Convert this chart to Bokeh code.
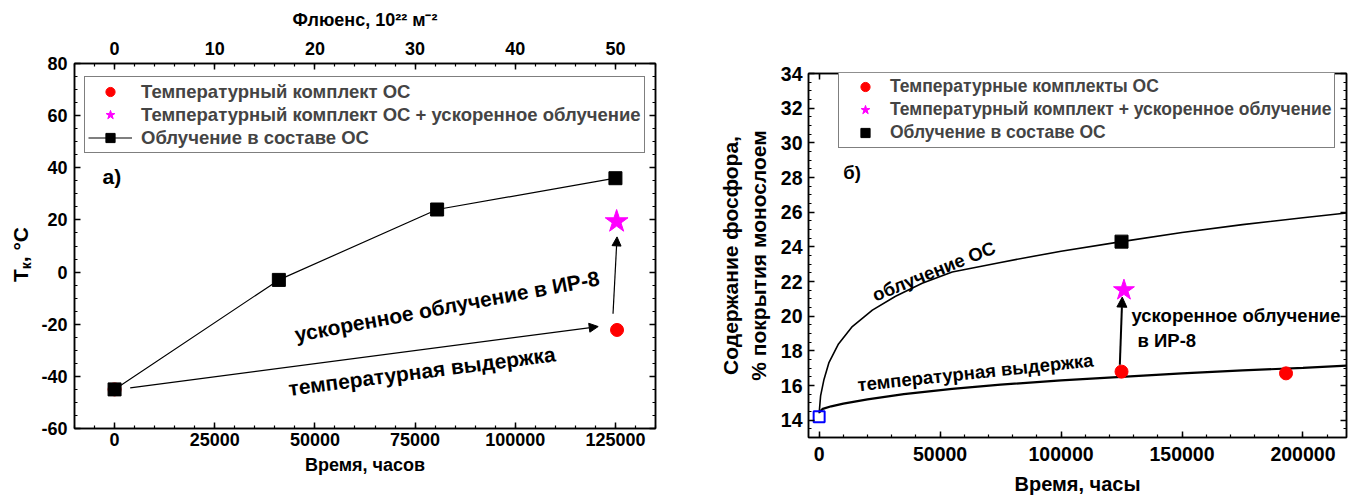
from bokeh.plotting import figure
from bokeh.models import (Range1d, LinearAxis, Legend, LegendItem, Arrow, NormalHead, Div,
                          SingleIntervalTicker, NumeralTickFormatter, CustomJSTickFormatter)
from bokeh.layouts import row, column
from bokeh.core.properties import value
from bokeh.embed import file_html
from bokeh.resources import INLINE
import math

FONT = "Liberation Sans"

# ---------------- data: panel a ----------------
a_sq_time = [0, 41000, 80500, 125000]
a_sq_temp = [-45, -3, 24, 36]
a_red_time = [0, 125400]
a_red_temp = [-45, -22.2]
a_star_time = [125300]
a_star_temp = [19.4]
a_x_label = "Время, часов"
a_top_label = "Флюенс, 10²² м⁻²"
a_legend = ["Температурный комплект ОС",
            "Температурный комплект ОС + ускоренное облучение",
            "Облучение в составе ОС"]

# ---------------- data: panel b ----------------
b_up_time = [0, 600, 2000, 4000, 8000, 13700, 22000, 31600, 42600, 55000, 75000,
             100000, 125000, 150000, 175000, 200000, 218000]
b_up_val = [14.4, 15.4, 16.35, 17.3, 18.4, 19.4, 20.35, 21.15, 21.9, 22.55, 23.1,
            23.75, 24.3, 24.83, 25.28, 25.68, 25.95]
b_low_time = [0, 1500, 5000, 10000, 20000, 35000, 55000, 75000, 100000, 125000, 150000,
              175000, 200000, 218000]
b_low_val = [14.45, 14.65, 14.8, 14.95, 15.2, 15.5, 15.8, 16.05, 16.3, 16.5, 16.7,
             16.87, 17.02, 17.15]
b_red_time = [125000, 193000]
b_red_val = [16.8, 16.7]
b_star_time = [126000]
b_star_val = [21.5]
b_sq_time = [125000]
b_sq_val = [24.3]
b_init_time = [0]
b_init_val = [14.2]
b_legend = ["Температурные комплекты ОС",
            "Температурный комплект + ускоренное облучение",
            "Облучение в составе ОС"]

BLANK = CustomJSTickFormatter(code="return ''")


def style_axis(ax, interval, minor, labels=True, fs="18px", tfs="18px"):
    ax.ticker = SingleIntervalTicker(interval=interval, num_minor_ticks=minor)
    ax.axis_line_width = 1.5
    ax.axis_line_color = "black"
    ax.major_tick_in = 6
    ax.major_tick_out = 0
    ax.minor_tick_in = 3
    ax.minor_tick_out = 0
    ax.major_tick_line_width = 1.5
    ax.minor_tick_line_width = 1.2
    ax.major_tick_line_color = "black"
    ax.minor_tick_line_color = "black"
    ax.major_label_text_font = FONT
    ax.major_label_text_font_style = "bold"
    ax.major_label_text_font_size = fs
    ax.major_label_text_color = "black"
    ax.axis_label_text_font = FONT
    ax.axis_label_text_font_style = "bold"
    ax.axis_label_text_font_size = tfs
    ax.axis_label_text_color = "black"
    if labels:
        ax.formatter = NumeralTickFormatter(format="0")
    else:
        ax.formatter = BLANK
        ax.major_label_standoff = 0


def clean(p):
    p.xgrid.visible = False
    p.ygrid.visible = False
    p.outline_line_color = "black"
    p.outline_line_width = 1.5
    p.background_fill_color = "white"
    p.border_fill_color = "white"


# =============== y label strip for panel a (HTML text with a real subscript) ===============
ylab = Div(text=('<div style="margin-top:227px; margin-left:9px; writing-mode:vertical-rl; '
                 'transform:rotate(180deg); font-family:\'Liberation Sans\'; font-weight:bold; '
                 'font-size:21px; line-height:24px; color:black; white-space:nowrap;">'
                 'T<sub style="font-size:14px;">к</sub>, °C</div>'),
           width=36, height=497, margin=0)

# =============== panel a ===============
p1 = figure(width=644, height=497, x_range=Range1d(-10000, 135000), y_range=Range1d(-60, 80),
            output_backend="svg", toolbar_location=None,
            min_border_left=38, min_border_right=25, min_border_top=63, min_border_bottom=69)
clean(p1)
style_axis(p1.xaxis[0], 25000, 5)
p1.xaxis[0].axis_label = a_x_label
p1.xaxis[0].major_label_standoff = 4
p1.xaxis[0].axis_label_standoff = 6
style_axis(p1.yaxis[0], 20, 4)
p1.yaxis[0].major_label_standoff = 7

p1.extra_x_ranges = {"flu": Range1d(-4, 54)}
top = LinearAxis(x_range_name="flu", axis_label=a_top_label)
style_axis(top, 10, 5)
top.major_label_standoff = 9
top.axis_label_standoff = 9
p1.add_layout(top, "above")
right1 = LinearAxis()
style_axis(right1, 20, 4, labels=False)
p1.add_layout(right1, "right")

r_c = p1.scatter(a_red_time, a_red_temp, marker="circle", size=13, color="red")
r_s = p1.scatter(a_star_time, a_star_temp, marker="star", size=24, color="magenta")
r_l = p1.line(a_sq_time, a_sq_temp, line_color="black", line_width=1.2)
r_q = p1.scatter(a_sq_time, a_sq_temp, marker="square", size=13, color="black")

p1.add_layout(Arrow(end=NormalHead(size=9, fill_color="black", line_color="black"),
                    x_start=3900, y_start=-44.4, x_end=120700, y_end=-20.9,
                    line_width=1.2, line_color="black"))
p1.add_layout(Arrow(end=NormalHead(size=9, fill_color="black", line_color="black"),
                    x_start=124400, y_start=-16, x_end=125400, y_end=13.5,
                    line_width=1.2, line_color="black"))

ta = dict(text_font=value(FONT), text_font_style="bold", text_font_size="21px",
          text_baseline="middle", text_color="black")
p1.text(x=[83000], y=[-13.1], text=["ускоренное облучение в ИР-8"],
        angle=math.radians(10.6), text_align="center", **ta)
p1.text(x=[76700], y=[-38.0], text=["температурная выдержка"],
        angle=math.radians(7.4), text_align="center", **ta)
p1.text(x=[-3000], y=[36.7], text=["а)"], text_align="left", **ta)

leg1 = Legend(items=[
    LegendItem(label=a_legend[0], renderers=[r_c]),
    LegendItem(label=a_legend[1], renderers=[r_s]),
    LegendItem(label=a_legend[2], renderers=[r_l, r_q]),
], location=(10, 275), margin=0, padding=3, spacing=0, label_height=23, glyph_height=23,
    glyph_width=44, label_standoff=9, border_line_color="black", border_line_width=1.2,
    label_text_font=FONT, label_text_font_style="bold", label_text_font_size="18.5px",
    background_fill_alpha=1.0)
p1.add_layout(leg1, "center")

# =============== panel b ===============
p2 = figure(width=674, height=497, x_range=Range1d(-4400, 218000), y_range=Range1d(13, 34),
            output_backend="svg", toolbar_location=None,
            min_border_left=128, min_border_right=8, min_border_top=73, min_border_bottom=59)
clean(p2)
style_axis(p2.xaxis[0], 50000, 5, fs="19.5px", tfs="20px")
p2.xaxis[0].axis_label = "Время, часы"
p2.xaxis[0].major_label_standoff = 9
p2.xaxis[0].axis_label_standoff = 9
style_axis(p2.yaxis[0], 2, 4, fs="19.5px", tfs="21px")
p2.yaxis[0].axis_label = "Содержание фосфора,\n% покрытия монослоем"
p2.yaxis[0].major_label_standoff = 6
p2.yaxis[0].axis_label_standoff = 8
right2 = LinearAxis()
style_axis(right2, 2, 4, labels=False)
p2.add_layout(right2, "right")
top2 = LinearAxis()
style_axis(top2, 50000, 5, labels=False)
p2.add_layout(top2, "above")

p2.line(b_up_time, b_up_val, line_color="black", line_width=1.6)
p2.line(b_low_time, b_low_val, line_color="black", line_width=2.2)
p2.scatter(b_init_time, b_init_val, marker="square", size=11, fill_color=None,
           line_color="blue", line_width=2)
q_c = p2.scatter(b_red_time, b_red_val, marker="circle", size=13, color="red")
q_s = p2.scatter(b_star_time, b_star_val, marker="star", size=22, color="magenta")
q_q = p2.scatter(b_sq_time, b_sq_val, marker="square", size=13, color="black")

p2.add_layout(Arrow(end=NormalHead(size=10, fill_color="black", line_color="black"),
                    x_start=124300, y_start=17.2, x_end=125300, y_end=21.1,
                    line_width=2, line_color="black"))

tb = dict(text_font=value(FONT), text_font_style="bold", text_font_size="18.5px",
          text_baseline="middle", text_color="black")
p2.text(x=[47400], y=[22.6], text=["облучение ОС"], angle=math.radians(22),
        text_align="center", **tb)
p2.text(x=[64600], y=[16.76], text=["температурная выдержка"], angle=math.radians(6),
        text_align="center", **tb)
p2.text(x=[129100], y=[20.05], text=["ускоренное облучение"], text_align="left", **tb)
p2.text(x=[131600], y=[18.6], text=["в ИР-8"], text_align="left", **tb)
p2.text(x=[10000], y=[28.3], text=["б)"], text_align="left", **tb)

leg2 = Legend(items=[
    LegendItem(label=b_legend[0], renderers=[q_c]),
    LegendItem(label=b_legend[1], renderers=[q_s]),
    LegendItem(label=b_legend[2], renderers=[q_q]),
], location=(30, 289), margin=0, padding=3, spacing=0, label_height=23, glyph_height=23,
    glyph_width=46, label_standoff=2, border_line_color="black", border_line_width=1.2,
    label_text_font=FONT, label_text_font_style="bold", label_text_font_size="17.5px",
    background_fill_alpha=1.0)
p2.add_layout(leg2, "center")

layout = row(column(row(ylab, p1)), column(p2))
open("out.html", "w").write(file_html(layout, INLINE))
